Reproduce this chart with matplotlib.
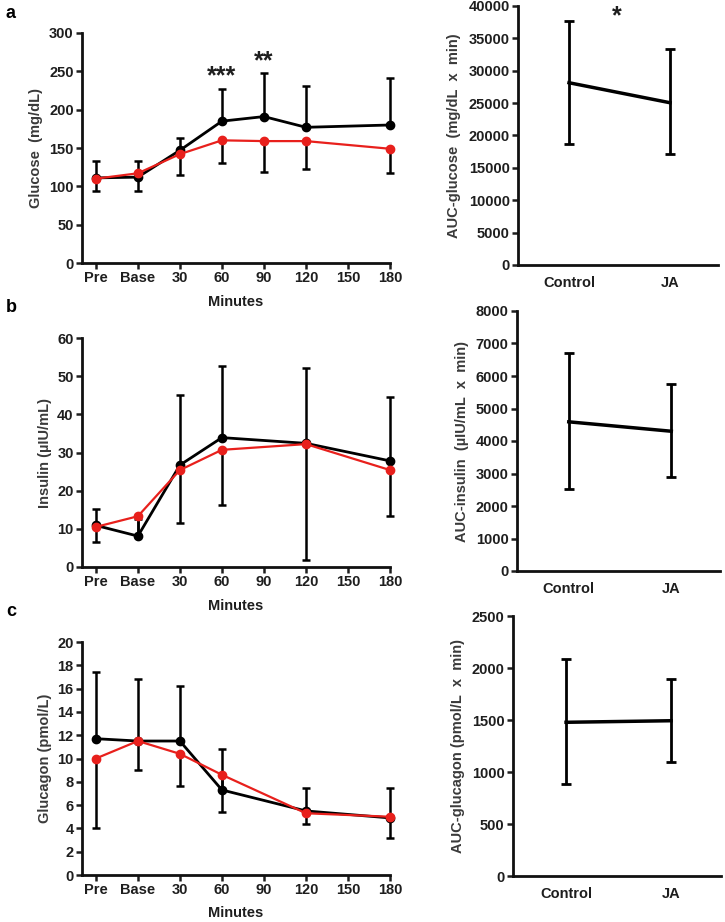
import numpy as np
import matplotlib
matplotlib.use('Agg')
import matplotlib.pyplot as plt

plt.rcParams['font.family'] = ['Liberation Sans', 'DejaVu Sans']
plt.rcParams['font.weight'] = 'bold'
plt.rcParams['axes.labelweight'] = 'bold'
plt.rcParams['font.size'] = 9

# time points (Pre, Base, then minutes)
time_labels = ['Pre', 'Base', '30', '60', '90', '120', '150', '180']
time_idx = [0, 1, 2, 3, 4, 5, 7]   # 150 has no measurement

# glucose (mg/dL)
glu_ctrl = [111, 112, 147, 185, 191, 177, 180]
glu_ja = [110, 117, 142, 160, 159, 159, 149]
glu_ctrl_err = [22, 21, 16, 42, 57, 54, 61]
glu_ja_err = [16, 23, 27, 30, 40, 37, 32]

# insulin (uIU/mL)
ins_ctrl = [10.9, 8.1, 26.7, 33.9, 32.4, 27.8]
ins_ja = [10.5, 13.3, 25.4, 30.7, 32.2, 25.4]
ins_ctrl_err = [4.2, 4.4, 18.4, 18.8, 19.7, 16.7]
ins_ja_err = [3.9, 5.0, 13.8, 14.5, 30.3, 12.1]
ins_idx = [0, 1, 2, 3, 5, 7]

# glucagon (pmol/L)
gcg_ctrl = [11.7, 11.5, 11.5, 7.3, 5.5, 4.9]
gcg_ja = [10.0, 11.5, 10.4, 8.6, 5.3, 5.0]
gcg_ctrl_err = [5.7, 5.3, 4.7, 3.5, 2.0, 2.6]
gcg_ja_err = [6.0, 2.5, 2.8, 3.2, 0.9, 1.8]
gcg_idx = [0, 1, 2, 3, 5, 7]

# AUC values
groups = ['Control', 'JA']
auc_glu = [28150, 25060]
auc_glu_lo = [18690, 17140]
auc_glu_hi = [37730, 33310]
auc_ins = [4590, 4300]
auc_ins_lo = [2510, 2900]
auc_ins_hi = [6720, 5740]
auc_gcg = [1478, 1493]
auc_gcg_lo = [882, 1099]
auc_gcg_hi = [2087, 1894]

W, H = 725, 922
fig = plt.figure(figsize=(W / 100, H / 100), dpi=100)
txt = '#1e1e1e'
TICK_FS = 10.5
LAB_FS = 10.5


def px_axes(x0, y0, x1, y1):
    # pixel box (top-left origin) -> figure fraction
    return fig.add_axes([x0 / W, 1 - y1 / H, (x1 - x0) / W, (y1 - y0) / H])


def style(ax):
    for s in ['top', 'right']:
        ax.spines[s].set_visible(False)
    for s in ['left', 'bottom']:
        ax.spines[s].set_linewidth(2)
        ax.spines[s].set_color('#111111')
    ax.tick_params(width=1.8, length=4, colors=txt, labelsize=TICK_FS, pad=2)


def time_panel(ax, idx, ctrl, ja, cerr, jerr, ymax, ystep, ylabel):
    style(ax)
    for art in [
        ax.errorbar(idx, ctrl, yerr=[np.zeros(len(ctrl)), cerr], fmt='none',
                    ecolor='black', elinewidth=1.8, capsize=3, capthick=1.8, zorder=2),
        ax.errorbar(idx, ja, yerr=[jerr, np.zeros(len(ja))], fmt='none',
                    ecolor='black', elinewidth=1.8, capsize=3, capthick=1.8, zorder=2)]:
        for ch in art.get_children():
            ch.set_clip_on(False)
    ax.plot(idx, ctrl, '-o', color='black', lw=2, ms=6, zorder=3, clip_on=False)
    ax.plot(idx, ja, '-o', color='#e8201c', lw=1.6, ms=6, zorder=4, clip_on=False)
    ax.set_xlim(-0.33, 7)
    ax.set_ylim(0, ymax)
    ax.set_xticks(range(8))
    ax.set_xticklabels(time_labels)
    ax.set_yticks(np.arange(0, ymax + ystep / 2, ystep))
    ax.set_ylabel(ylabel, color='#3a3a3a', fontsize=LAB_FS, labelpad=4)


def auc_panel(ax, vals, lo, hi, ymax, ystep, ylabel):
    style(ax)
    x = [0, 1]
    v = np.array(vals)
    ax.errorbar(x, v, yerr=[v - np.array(lo), np.array(hi) - v], fmt='-',
                color='black', lw=2.5, elinewidth=2, capsize=3.5, capthick=2)
    ax.set_xlim(-0.505, 1.475)
    ax.set_ylim(0, ymax)
    ax.set_xticks(x)
    ax.set_xticklabels(groups)
    ax.tick_params(axis='x', length=0, pad=8)
    ax.set_yticks(np.arange(0, ymax + ystep / 2, ystep))
    ax.set_ylabel(ylabel, color='#3a3a3a', fontsize=LAB_FS, labelpad=5)


# panel a
ax = px_axes(82, 33, 390, 263)
time_panel(ax, time_idx, glu_ctrl, glu_ja, glu_ctrl_err, glu_ja_err, 300, 50, 'Glucose  (mg/dL)')
ax.text(3, 228, '***', ha='center', va='bottom', fontsize=18, color=txt)
ax.text(4, 248, '**', ha='center', va='bottom', fontsize=18, color=txt)
ax.set_xlabel('Minutes', color=txt, fontsize=LAB_FS, labelpad=7)

ax = px_axes(518, 6, 718, 265)
auc_panel(ax, auc_glu, auc_glu_lo, auc_glu_hi, 40000, 5000, 'AUC-glucose  (mg/dL  x  min)')
ax.text(0.47, 36500, '*', ha='center', va='bottom', fontsize=18, color=txt)

# panel b
ax = px_axes(82, 338, 390, 567)
time_panel(ax, ins_idx, ins_ctrl, ins_ja, ins_ctrl_err, ins_ja_err, 60, 10, 'Insulin (\u00b5IU/mL)')
ax.set_xlabel('Minutes', color=txt, fontsize=LAB_FS, labelpad=7)

ax = px_axes(517, 311, 720, 571)
auc_panel(ax, auc_ins, auc_ins_lo, auc_ins_hi, 8000, 1000, 'AUC-insulin  (\u00b5IU/mL  x  min)')

# panel c
ax = px_axes(82, 642, 390, 875)
time_panel(ax, gcg_idx, gcg_ctrl, gcg_ja, gcg_ctrl_err, gcg_ja_err, 20, 2, 'Glucagon (pmol/L)')
ax.set_xlabel('Minutes', color=txt, fontsize=LAB_FS, labelpad=6)

ax = px_axes(513, 616, 721, 876)
auc_panel(ax, auc_gcg, auc_gcg_lo, auc_gcg_hi, 2500, 500, 'AUC-glucagon (pmol/L  x  min)')

# panel letters
for lab, y in [('a', 14), ('b', 307), ('c', 611)]:
    fig.text(6 / W, 1 - y / H, lab, fontsize=13, fontweight='bold', color='black', va='center')

fig.savefig('out.png', dpi=100)
